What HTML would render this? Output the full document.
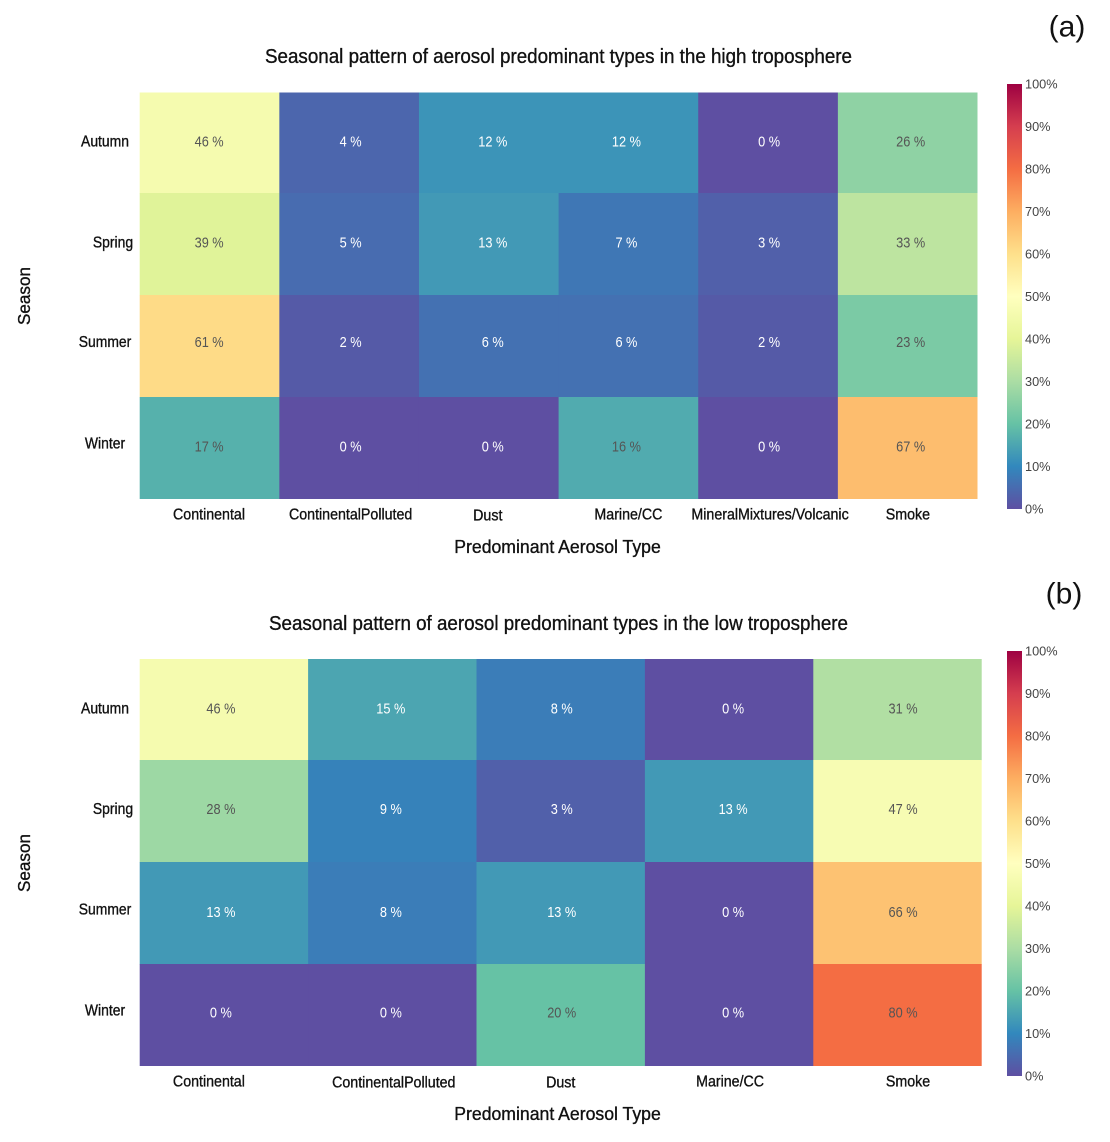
<!DOCTYPE html>
<html lang="en">
<head>
<meta charset="utf-8">
<title>Seasonal pattern of aerosol predominant types</title>
<style>
  html, body { margin: 0; padding: 0; background: #fff; }
  svg { display: block; font-family: "Liberation Sans", sans-serif; }
  text { dominant-baseline: central; }
</style>
</head>
<body>
<svg id="figure" xmlns="http://www.w3.org/2000/svg" width="1110" height="1142" viewBox="0 0 1110 1142">
  <defs>
    <linearGradient id="spectral-gradient" x1="0" y1="1" x2="0" y2="0"></linearGradient>
  </defs>
  <rect width="1110" height="1142" fill="#ffffff"></rect>
</svg>
<script>
// ---- Chart data ----
const seasons = ["Autumn", "Spring", "Summer", "Winter"];
const typesHigh = ["Continental", "ContinentalPolluted", "Dust", "Marine/CC", "MineralMixtures/Volcanic", "Smoke"];
const typesLow = ["Continental", "ContinentalPolluted", "Dust", "Marine/CC", "Smoke"];
const valuesHigh = [
  [46, 4, 12, 12, 0, 26],
  [39, 5, 13, 7, 3, 33],
  [61, 2, 6, 6, 2, 23],
  [17, 0, 0, 16, 0, 67]
];
const valuesLow = [
  [46, 15, 8, 0, 31],
  [28, 9, 3, 13, 47],
  [13, 8, 13, 0, 66],
  [0, 0, 20, 0, 80]
];
const legendTicks = [0, 10, 20, 30, 40, 50, 60, 70, 80, 90, 100];
const spectralStops = ["#5e4fa2", "#3288bd", "#66c2a5", "#abdda4", "#e6f598", "#ffffbf", "#fee08b", "#fdae61", "#f46d43", "#d53e4f", "#9e0142"];

// ---- Layout ----
const panels = [
  {
    key: "high", title: "Seasonal pattern of aerosol predominant types in the high troposphere",
    titleX: 558.5, titleY: 57, titleWidth: 587,
    types: typesHigh, values: valuesHigh,
    left: 139.7, right: 977.5, top: 91, clipTop: 92.5, bottom: 499,
    seasonX: [105, 113, 105, 105], seasonShiftY: [-0.2, -1.5, -3.9, -4.3],
    valueShiftX: [-0.4, 1.5, 4, -2, 1, 3], valueShiftY: [-0.7, -2, -4.4, -1.8],
    typeShiftX: [-0.5, 1.5, -1, 0, 2, 0.2], typeY: [514.5, 514.5, 515.5, 514.5, 514.5, 514.5],
    axisTitleY: 547, seasonTitleY: 296, legendTop: 84, legendBottom: 509,
    letter: "(a)", letterX: 1067, letterY: 27
  },
  {
    key: "low", title: "Seasonal pattern of aerosol predominant types in the low troposphere",
    titleX: 558.5, titleY: 624, titleWidth: 579,
    types: typesLow, values: valuesLow,
    left: 139.7, right: 981.7, top: 658, clipTop: 659, bottom: 1066,
    seasonX: [105, 113, 105, 105], seasonShiftY: [-0.5, -1.9, -3.1, -4.4],
    valueShiftX: [-3, -1.5, 1, 4, 5.5], valueShiftY: [-1, -2.4, -1.6, -2.9],
    typeShiftX: [-15, 1.5, 0, 1, 10.5], typeY: [1081.5, 1082.5, 1082.5, 1081.5, 1081.5],
    axisTitleY: 1114, seasonTitleY: 863, legendTop: 651, legendBottom: 1076,
    letter: "(b)", letterX: 1064, letterY: 594
  }
];
const svgNS = "http://www.w3.org/2000/svg";
const figure = document.getElementById("figure");

// ---- Helpers ----
function hexToRgb(hex) {
  return [1, 3, 5].map(function (i) { return parseInt(hex.slice(i, i + 2), 16); });
}
function colorFor(value) {
  const t = Math.max(0, Math.min(1, value / 100)) * (spectralStops.length - 1);
  const i = Math.min(Math.floor(t), spectralStops.length - 2);
  const a = hexToRgb(spectralStops[i]);
  const b = hexToRgb(spectralStops[i + 1]);
  const f = t - i;
  return "rgb(" + a.map(function (c, k) { return Math.round(c + (b[k] - c) * f); }).join(",") + ")";
}
function drawText(parent, str, x, y, size, fill, anchor, scaleX) {
  const el = document.createElementNS(svgNS, "text");
  el.textContent = str;
  el.setAttribute("transform", "translate(" + x + "," + y + ") scale(" + scaleX + ",1)");
  el.setAttribute("font-size", size);
  el.setAttribute("fill", fill);
  el.setAttribute("text-anchor", anchor);
  parent.appendChild(el);
  return el;
}
function embolden(el, color) {
  el.setAttribute("stroke", color);
  el.setAttribute("stroke-width", "0.35");
}
function slug(str) {
  return str.toLowerCase().replace(/[^a-z0-9]+/g, "-");
}

// ---- Shared legend gradient ----
const gradient = document.getElementById("spectral-gradient");
spectralStops.forEach(function (color, i) {
  const stop = document.createElementNS(svgNS, "stop");
  stop.setAttribute("offset", i / (spectralStops.length - 1));
  stop.setAttribute("stop-color", color);
  gradient.appendChild(stop);
});

// ---- Panels ----
panels.forEach(function (p) {
  const group = document.createElementNS(svgNS, "g");
  
  
  figure.appendChild(group);

  const colWidth = (p.right - p.left) / p.types.length;
  const rowHeight = (p.bottom - p.top) / seasons.length;
  const xCenter = function (c) { return p.left + colWidth * (c + 0.5); };
  const yCenter = function (r) { return p.top + rowHeight * (r + 0.5); };

  // Title
  const title = drawText(group, p.title, p.titleX, p.titleY, 20, "#111111", "middle", 1);
  title.setAttribute("textLength", p.titleWidth);
  title.setAttribute("lengthAdjust", "spacingAndGlyphs");
  embolden(title, "#111111");
  
  

  // Cells
  p.values.forEach(function (row, r) {
    row.forEach(function (value, c) {
      const cell = document.createElementNS(svgNS, "rect");
      const cellTop = Math.max(p.top + rowHeight * r, p.clipTop);
      const cellBottom = p.top + rowHeight * (r + 1);
      cell.setAttribute("x", p.left + colWidth * c);
      cell.setAttribute("y", cellTop);
      cell.setAttribute("width", colWidth + (c < p.types.length - 1 ? 0.4 : 0));
      cell.setAttribute("height", cellBottom - cellTop + (r < seasons.length - 1 ? 0.4 : 0));
      cell.setAttribute("fill", colorFor(value));
      
      
      group.appendChild(cell);
    });
  });

  // Value labels
  p.values.forEach(function (row, r) {
    row.forEach(function (value, c) {
      const fill = value >= 16 ? "#555555" : "#ffffff";
      const label = drawText(group, value + " %", xCenter(c) + p.valueShiftX[c], yCenter(r) + p.valueShiftY[r], 15, fill, "middle", 0.85);
      
      
    });
  });

  // Season tick labels
  seasons.forEach(function (season, r) {
    const tick = drawText(group, season, p.seasonX[r], yCenter(r) + p.seasonShiftY[r], 16, "#111111", "middle", 0.87);
    embolden(tick, "#111111");
    
    
  });

  // Type tick labels
  p.types.forEach(function (type, c) {
    const tick = drawText(group, type, xCenter(c) + p.typeShiftX[c], p.typeY[c], 16, "#111111", "middle", 0.89);
    embolden(tick, "#111111");
    
    
  });

  // Axis titles
  const xTitle = drawText(group, "Predominant Aerosol Type", 557.5, p.axisTitleY, 18, "#111111", "middle", 0.98);
  embolden(xTitle, "#111111");
  
  

  const yTitle = drawText(group, "Season", 24, p.seasonTitleY, 18, "#111111", "middle", 1);
  yTitle.setAttribute("transform", "translate(24," + p.seasonTitleY + ") rotate(-90) scale(0.95,1)");
  embolden(yTitle, "#111111");
  
  

  // Colour legend
  const bar = document.createElementNS(svgNS, "rect");
  bar.setAttribute("x", 1007);
  bar.setAttribute("y", p.legendTop);
  bar.setAttribute("width", 15);
  bar.setAttribute("height", p.legendBottom - p.legendTop);
  bar.setAttribute("fill", "url(#spectral-gradient)");
  
  
  group.appendChild(bar);

  legendTicks.forEach(function (tickValue) {
    const y = p.legendBottom - (p.legendBottom - p.legendTop) * tickValue / 100;
    const legendLabel = drawText(group, tickValue + "%", 1025, y, 13, "#444444", "start", 0.98);
    
    
  });

  // Panel letter
  const letter = drawText(group, p.letter, p.letterX, p.letterY, 30, "#111111", "middle", 1);
  
  
});
</script>
</body>
</html>
